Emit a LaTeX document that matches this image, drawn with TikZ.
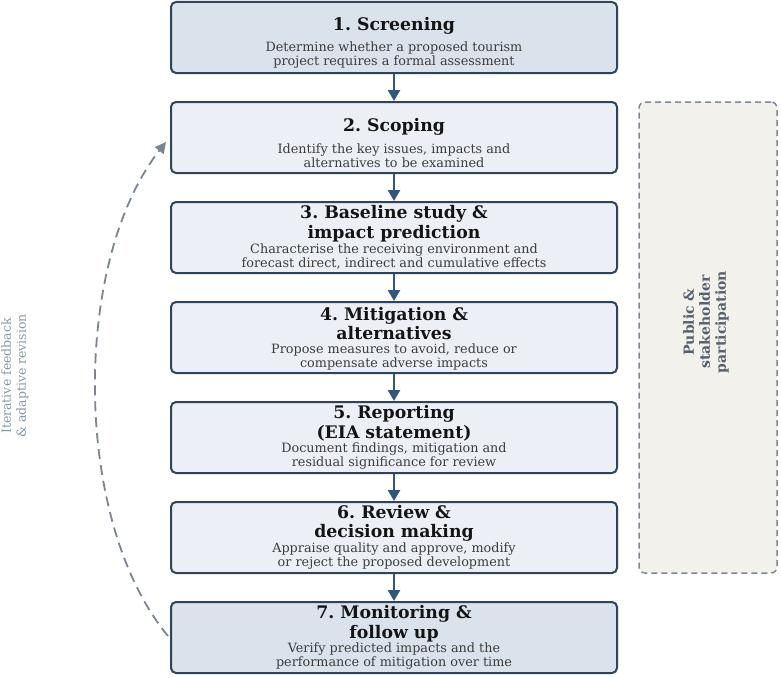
\documentclass[tikz,border=0pt]{standalone}
\usepackage{fontspec}
\setmainfont{DejaVu Serif}
\usetikzlibrary{arrows.meta}
\definecolor{boxborder}{HTML}{2F445C}
\definecolor{fillA}{HTML}{DAE3EC}
\definecolor{fillB}{HTML}{ECF0F6}
\definecolor{arrowc}{HTML}{34557A}
\definecolor{descc}{HTML}{3C3C3C}
\definecolor{partfill}{HTML}{F3F1EC}
\definecolor{partdraw}{HTML}{7D8796}
\definecolor{parttext}{HTML}{56616F}
\definecolor{loopc}{HTML}{7A8594}
\definecolor{looptext}{HTML}{8596A8}
\tikzset{
  stagebox/.style={draw=boxborder, line width=2pt, rounded corners=5pt, minimum width=446pt, minimum height=71pt, inner sep=0pt},
  titletext/.style={font=\fontsize{17.3}{19.5}\selectfont\bfseries, text=black!92, align=center, inner sep=0pt},
  desctext/.style={font=\fontsize{12.8}{14}\selectfont, text=descc, align=center, inner sep=0pt},
  flowarrow/.style={draw=arrowc, line width=2.6pt, -{Triangle[width=12pt,length=11pt]}},
}
\frenchspacing
\begin{document}
\begin{tikzpicture}[x=1pt,y=-1pt]
\useasboundingbox (0,0) rectangle (781,677);
% participation box
\node[draw=partdraw, fill=partfill, dash pattern=on 6pt off 4pt, line width=1.5pt, rounded corners=6pt, minimum width=138pt, minimum height=471pt] (part) at (708,337.5) {};
\node[rotate=90, font=\fontsize{14}{16}\selectfont\bfseries, text=parttext, align=center] (partlabel) at (706,322) {Public \&\\stakeholder\\participation};
% stages
\node[stagebox, fill=fillA] (b1) at (394,37.5) {};
\node[stagebox, fill=fillB] (b2) at (394,137.5) {};
\node[stagebox, fill=fillB] (b3) at (394,237.5) {};
\node[stagebox, fill=fillB] (b4) at (394,337.5) {};
\node[stagebox, fill=fillB] (b5) at (394,437.5) {};
\node[stagebox, fill=fillB] (b6) at (394,537.5) {};
\node[stagebox, fill=fillA] (b7) at (394,637.5) {};
% titles
\node[titletext] (t1) at (394,26) {1. Screening};
\node[titletext] (t2) at (394,127) {2. Scoping};
\node[titletext] (t3) at (394,223.5) {3. Baseline study \&\\impact prediction};
\node[titletext] (t4) at (394,323.5) {4. Mitigation \&\\alternatives};
\node[titletext] (t5) at (394,423.5) {5. Reporting\\(EIA statement)};
\node[titletext] (t6) at (394,523.5) {6. Review \&\\decision making};
\node[titletext] (t7) at (394,623.5) {7. Monitoring \&\\follow up};
% descriptions
\node[desctext] (d1) at (394,55) {Determine whether a proposed tourism\\project requires a formal assessment};
\node[desctext] (d2) at (394,155.5) {Identify the key issues, impacts and\\alternatives to be examined};
\node[desctext] (d3) at (394,256.5) {Characterise the receiving environment and\\forecast direct, indirect and cumulative effects};
\node[desctext] (d4) at (394,356.5) {Propose measures to avoid, reduce or\\compensate adverse impacts};
\node[desctext] (d5) at (394,456.5) {Document findings, mitigation and\\residual significance for review};
\node[desctext] (d6) at (394,556.5) {Appraise quality and approve, modify\\or reject the proposed development};
\node[desctext] (d7) at (394,656.5) {Verify predicted impacts and the\\performance of mitigation over time};
% flow arrows
\draw[flowarrow] (b1.south) -- (b2.north);
\draw[flowarrow] (b2.south) -- (b3.north);
\draw[flowarrow] (b3.south) -- (b4.north);
\draw[flowarrow] (b4.south) -- (b5.north);
\draw[flowarrow] (b5.south) -- (b6.north);
\draw[flowarrow] (b6.south) -- (b7.north);
% feedback loop
\coordinate (loopstart) at (168,636);
\coordinate (loopend) at (166,142);
\draw[loopc, line width=1.8pt, dash pattern=on 10pt off 6pt, -{Triangle[width=11pt,length=11pt]}] (loopstart) .. controls (72,520) and (72,262) .. (loopend);
\node[rotate=90, font=\fontsize{12.5}{15}\selectfont, text=looptext, align=center] (looplabel) at (15,376) {Iterative feedback\\\& adaptive revision};
\end{tikzpicture}
\end{document}
